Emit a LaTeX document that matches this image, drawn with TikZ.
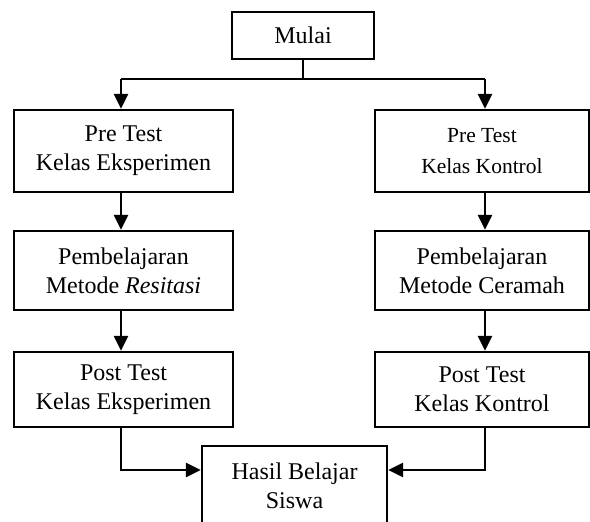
\documentclass[tikz,border=0pt]{standalone}
\usepackage{fontspec}
\setmainfont{Liberation Serif}
\usetikzlibrary{arrows.meta}
\begin{document}
\begin{tikzpicture}[x=1pt,y=-1pt,
  box/.style={draw, line width=2.3pt, fill=white, inner sep=0pt, align=center,
    font=\fontsize{24}{29}\selectfont},
  lbox/.style={box, minimum width=219pt},
  rbox/.style={box, minimum width=214pt},
  arr/.style={line width=2.8pt, -{Triangle[length=15pt,width=14pt]}},
  ln/.style={line width=2.5pt}]
\useasboundingbox (0,0) rectangle (590,522);
\node[box, minimum width=142pt, minimum height=47pt] (mulai) at (303,35.5) {Mulai};
\node[lbox, minimum height=82pt] (l1) at (123.5,151) {Pre Test\\Kelas Eksperimen};
\node[lbox, minimum height=79pt] (l2) at (123.5,270.5) {Pembelajaran\\Metode \textit{Resitasi}};
\node[lbox, minimum height=75pt] (l3) at (123.5,389.5) {Post Test\\Kelas Eksperimen};
\node[rbox, minimum height=82pt, font=\fontsize{21.5}{31}\selectfont] (r1) at (482,151) {Pre Test\\Kelas Kontrol};
\node[rbox, minimum height=79pt] (r2) at (482,270.5) {Pembelajaran\\Metode Ceramah};
\node[rbox, minimum height=75pt] (r3) at (482,389.5) {Post Test\\Kelas Kontrol};
\node[box, minimum width=185pt, minimum height=80pt] (hasil) at (294.5,486) {Hasil Belajar\\Siswa};
\coordinate (jl) at (121,79);
\coordinate (jr) at (485,79);
\coordinate (ya) at (0,470);
\draw[ln] (mulai.south) -- (mulai.south |- jl);
\draw[ln] (jl) -- (jr);
\draw[arr] (jl) -- (jl |- l1.north);
\draw[arr] (jr) -- (jr |- r1.north);
\draw[arr] (l1.south -| jl) -- (l2.north -| jl);
\draw[arr] (l2.south -| jl) -- (l3.north -| jl);
\draw[arr] (r1.south -| jr) -- (r2.north -| jr);
\draw[arr] (r2.south -| jr) -- (r3.north -| jr);
\draw[arr] (l3.south -| jl) -- (jl |- ya) -- (hasil.west |- ya);
\draw[arr] (r3.south -| jr) -- (jr |- ya) -- (hasil.east |- ya);
\end{tikzpicture}
\end{document}
